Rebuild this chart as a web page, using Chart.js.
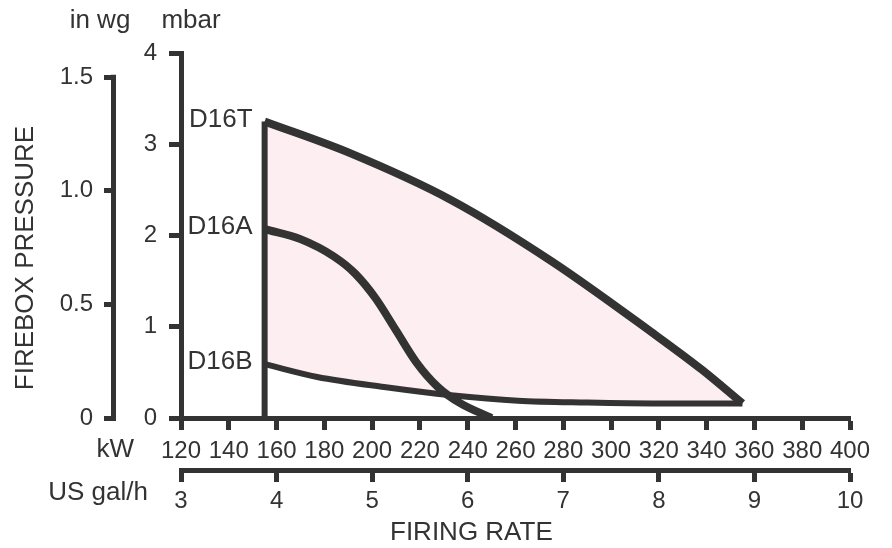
<!DOCTYPE html>
<html><head><meta charset="utf-8">
<script src="https://cdn.jsdelivr.net/npm/chart.js@4.4.1/dist/chart.umd.min.js"></script>
<style>html,body{margin:0;padding:0;background:#fff;}canvas{display:block}</style>
</head><body>
<canvas id="c" width="892" height="548"></canvas>
<script>
// ---- tick labels ----
const kwTicks = [120,140,160,180,200,220,240,260,280,300,320,340,360,380,400];
const galTicks = [3,4,5,6,7,8,9,10];
const mbarTicks = [0,1,2,3,4];
const inwgTicks = [0,0.5,1.0,1.5];
const inwgLabels = ['0','0.5','1.0','1.5'];
const MBAR_PER_INWG = 2.49;

// ---- series (kW vs mbar) ----
const seriesNames = ['D16T','D16A','D16B'];
const d16tKw   = [155, 191, 233, 275, 317, 338, 355];
const d16tMbar = [3.25, 2.90, 2.39, 1.72, 0.94, 0.53, 0.16];
const d16aKw   = [155, 170, 184, 193, 201.5, 210, 218.5, 227.5, 237, 250];
const d16aMbar = [2.07, 1.96, 1.77, 1.58, 1.31, 0.96, 0.61, 0.34, 0.16, 0];
const d16bKw   = [155, 177, 205, 233, 261, 290, 320, 355];
const d16bMbar = [0.59, 0.45, 0.34, 0.25, 0.19, 0.17, 0.16, 0.16];

const INK = '#333333';
const FONT = "'Liberation Sans', Arial, Helvetica, sans-serif";
const pts = (xs, ys) => xs.map((x, i) => ({x, y: ys[i]}));

const lineDs = (label, data, w, extra) => Object.assign({
  label, data, showLine: true, borderColor: INK, borderWidth: w,
  pointRadius: 0, pointHoverRadius: 0, fill: false,
  cubicInterpolationMode: 'monotone', borderCapStyle: 'butt', borderJoinStyle: 'miter',
  xAxisID: 'x', yAxisID: 'y'
}, extra || {});

const tickFont = {family: FONT, size: 24};

const axisCommon = (extra) => Object.assign({
  type: 'linear',
  grid: {drawOnChartArea: false, tickLength: 12, tickWidth: 5, tickColor: INK},
  border: {color: INK, width: 5},
  ticks: {font: tickFont, color: INK, maxRotation: 0, autoSkip: false}
}, extra);

const textPlugin = {
  id: 'texts',
  afterDraw(chart) {
    const ctx = chart.ctx;
    const ca = chart.chartArea;
    const yIn = chart.scales.yin, yM = chart.scales.y, xK = chart.scales.x;
    ctx.save();
    // in wg axis line (only up to 1.5)
    ctx.strokeStyle = INK; ctx.lineWidth = 5; ctx.lineCap = 'butt';
    ctx.beginPath();
    ctx.moveTo(yIn.right - 2.5, yIn.getPixelForValue(inwgTicks[0]) + 2.5);
    ctx.lineTo(yIn.right - 2.5, yIn.getPixelForValue(inwgTicks[inwgTicks.length-1]) - 2.5);
    ctx.stroke();

    ctx.fillStyle = INK;
    ctx.font = '26px ' + FONT;
    ctx.textBaseline = 'middle';
    ctx.textAlign = 'center';
    ctx.fillText('in wg', yIn.right - 16, 21);
    ctx.fillText('mbar', yM.right + 10, 21);
    ctx.textAlign = 'right';
    ctx.fillText('kW', ca.left - 47, 450);
    ctx.fillText('US gal/h', ca.left - 33, 493);
    ctx.textAlign = 'left';
    ctx.fillText('FIRING RATE', 390, 533);
    // series labels
    ctx.textAlign = 'right';
    const starts = [[d16tKw[0], d16tMbar[0]], [d16aKw[0], d16aMbar[0]], [d16bKw[0], d16bMbar[0]]];
    starts.forEach((s, i) => {
      ctx.fillText(seriesNames[i], xK.getPixelForValue(s[0]) - 12, yM.getPixelForValue(s[1]) - 2);
    });
    // rotated title
    ctx.save();
    ctx.translate(26, 258);
    ctx.rotate(-Math.PI / 2);
    ctx.textAlign = 'center';
    ctx.fillText('FIREBOX PRESSURE', 0, 0);
    ctx.restore();
    ctx.restore();
  }
};

new Chart(document.getElementById('c'), {
  type: 'scatter',
  data: {
    datasets: [
      lineDs(seriesNames[0], pts(d16tKw, d16tMbar), 8, {fill: {target: 2}, backgroundColor: 'rgb(253,238,241)'}),
      lineDs(seriesNames[1], pts(d16aKw, d16aMbar), 8),
      lineDs(seriesNames[2], pts(d16bKw, d16bMbar), 6),
      lineDs('edge', [{x: d16tKw[0], y: 0}, {x: d16tKw[0], y: d16tMbar[0]}], 6, {cubicInterpolationMode: 'default', tension: 0})
    ]
  },
  options: {
    responsive: false, animation: false, devicePixelRatio: 1,
    layout: {padding: {top: 53, right: 42, left: 0, bottom: 0}},
    plugins: {legend: {display: false}, tooltip: {enabled: false}, title: {display: false},
      filler: {drawTime: 'beforeDatasetsDraw'}},
    scales: {
      x: axisCommon({position: 'bottom', min: 120, max: 400, weight: 0,
        afterBuildTicks: s => { s.ticks = kwTicks.map(v => ({value: v})); },
        afterFit: s => { s.height = 52; },
        ticks: {font: tickFont, color: INK, maxRotation: 0, autoSkip: false, padding: 7}
      }),
      xg: axisCommon({position: 'bottom', min: galTicks[0], max: galTicks[galTicks.length-1], weight: 1,
        afterBuildTicks: s => { s.ticks = galTicks.map(v => ({value: v})); },
        afterFit: s => { s.height = 78; },
        ticks: {font: tickFont, color: INK, maxRotation: 0, autoSkip: false, padding: 5}
      }),
      y: axisCommon({position: 'left', min: 0, max: 4, weight: 0,
        afterBuildTicks: s => { s.ticks = mbarTicks.map(v => ({value: v})); },
        afterFit: s => { s.width = 65; },
        ticks: {font: tickFont, color: INK, padding: 12}
      }),
      yin: axisCommon({position: 'left', min: 0, max: 4 / MBAR_PER_INWG, weight: 1,
        border: {display: false},
        afterBuildTicks: s => { s.ticks = inwgTicks.map(v => ({value: v})); },
        afterFit: s => { s.width = 116; },
        ticks: {font: tickFont, color: INK, padding: 11,
          callback: (v) => inwgLabels[inwgTicks.indexOf(v)] }
      })
    }
  },
  plugins: [textPlugin]
});
</script>
</body></html>
